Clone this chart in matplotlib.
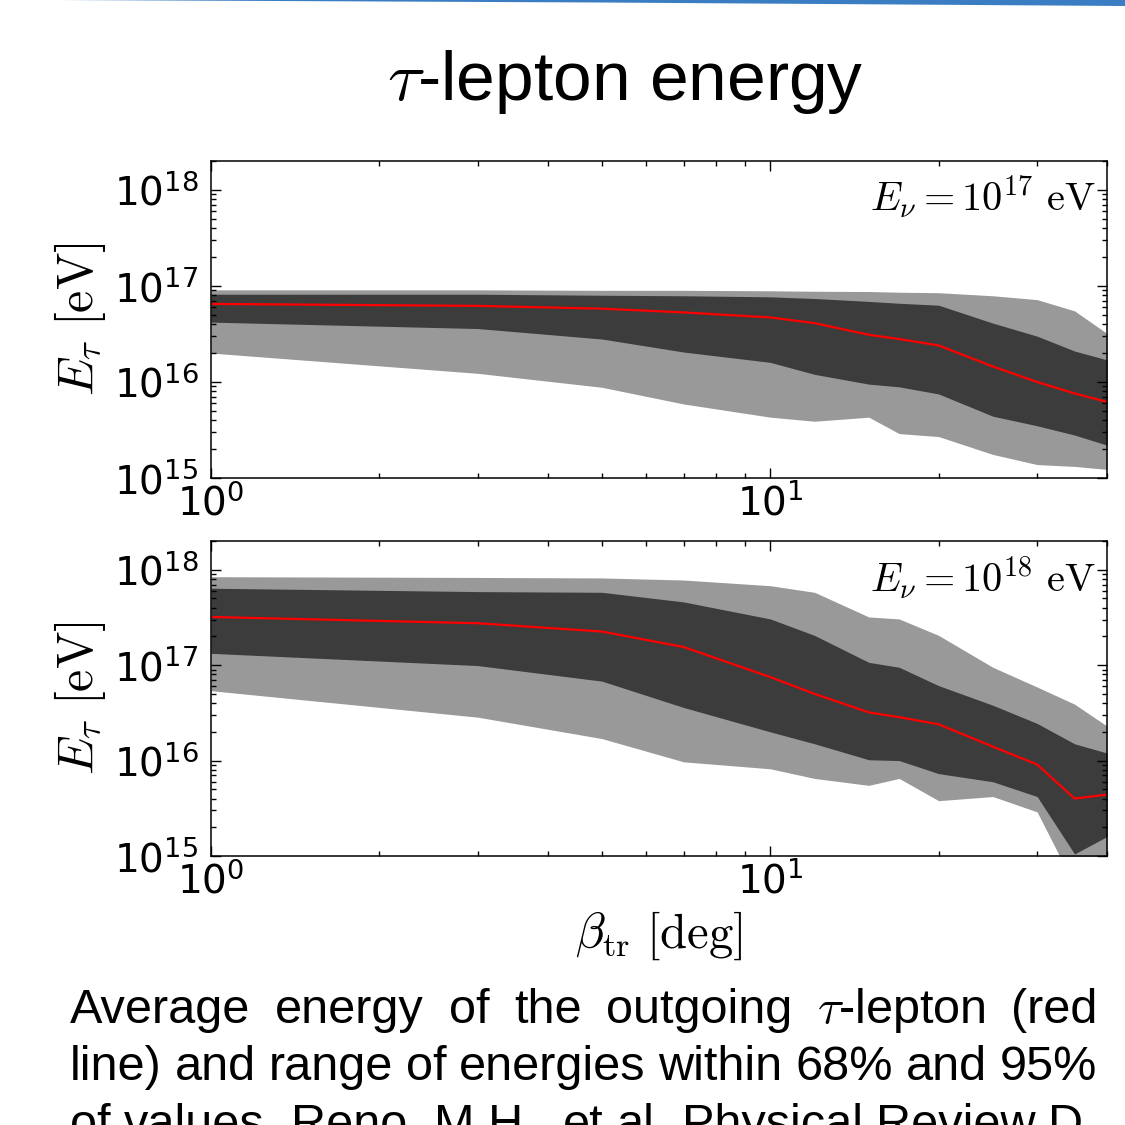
import numpy as np
import matplotlib
matplotlib.use('Agg')
import matplotlib.pyplot as plt
from matplotlib.patches import Polygon
from matplotlib.ticker import LogLocator, NullFormatter

plt.rcParams['font.family'] = 'DejaVu Sans'
plt.rcParams['mathtext.fontset'] = 'cm'

# beta_tr [deg]
beta = [1, 3, 5, 7, 10, 12, 15, 17, 20, 25, 30, 35, 40]

# E_nu = 1e17 eV
mean_17 = [6.5e16, 6.2e16, 5.8e16, 5.3e16, 4.7e16, 4.1e16, 3.1e16, 2.8e16, 2.4e16, 1.45e16, 1.0e16, 7.6e15, 6.2e15]
hi68_17 = [8.2e16, 8.2e16, 8.0e16, 7.9e16, 7.7e16, 7.4e16, 6.9e16, 6.6e16, 6.3e16, 4.1e16, 3.0e16, 2.1e16, 1.7e16]
lo68_17 = [4.2e16, 3.6e16, 2.8e16, 2.05e16, 1.6e16, 1.2e16, 9.5e15, 8.9e15, 7.5e15, 4.4e15, 3.5e15, 2.8e15, 2.2e15]
hi95_17 = [9.1e16, 9.1e16, 9.0e16, 9.0e16, 8.9e16, 8.8e16, 8.75e16, 8.6e16, 8.5e16, 7.9e16, 7.2e16, 5.5e16, 3.2e16]
lo95_17 = [2.0e16, 1.23e16, 8.8e15, 5.9e15, 4.3e15, 3.9e15, 4.3e15, 2.9e15, 2.7e15, 1.76e15, 1.38e15, 1.32e15, 1.23e15]

# E_nu = 1e18 eV
mean_18 = [3.2e17, 2.75e17, 2.25e17, 1.55e17, 7.5e16, 5.0e16, 3.2e16, 2.85e16, 2.4e16, 1.4e16, 9.1e15, 4.0e15, 4.4e15]
hi68_18 = [6.4e17, 5.9e17, 5.8e17, 4.6e17, 3.05e17, 2.05e17, 1.07e17, 9.5e16, 6.1e16, 3.8e16, 2.45e16, 1.5e16, 1.2e16]
lo68_18 = [1.33e17, 9.9e16, 6.8e16, 3.6e16, 2.0e16, 1.5e16, 1.02e16, 1.0e16, 7.3e15, 6.0e15, 4.2e15, 1.05e15, 1.6e15]
hi95_18 = [8.45e17, 8.3e17, 8.2e17, 7.8e17, 6.8e17, 5.8e17, 3.2e17, 3.05e17, 2.05e17, 9.5e16, 5.9e16, 3.9e16, 2.3e16]
lo95_18 = [5.4e16, 2.85e16, 1.7e16, 9.7e15, 8.2e15, 6.5e15, 5.5e15, 6.5e15, 3.8e15, 4.2e15, 2.9e15, 4.9e14, 6.3e14]

panels = [
    (r'$E_\nu = 10^{17}\ \mathrm{eV}$', mean_17, lo68_17, hi68_17, lo95_17, hi95_17),
    (r'$E_\nu = 10^{18}\ \mathrm{eV}$', mean_18, lo68_18, hi68_18, lo95_18, hi95_18),
]

W = 1125.0
fig = plt.figure(figsize=(11.25, 11.25), dpi=100)

# blue bar on top of the slide
fig.patches.append(Polygon([(60 / W, 1.0), (1.0, 1.0), (1.0, 1 - 6 / W), (600 / W, 1 - 2.5 / W)],
                           closed=True, transform=fig.transFigure, color='#3a7dc2', lw=0))

fig.text(625 / W, 1 - 100 / W, r'$\tau$-lepton energy', family='Liberation Sans',
         fontsize=50, ha='center', va='baseline')

axes_box = [(211, 161, 1107, 478), (211, 541, 1107, 856)]
for (x0, y0, x1, y1), (lab, mean, lo68, hi68, lo95, hi95) in zip(axes_box, panels):
    ax = fig.add_axes([x0 / W, 1 - y1 / W, (x1 - x0) / W, (y1 - y0) / W])
    ax.fill_between(beta, lo95, hi95, color='#999999', lw=0)
    ax.fill_between(beta, lo68, hi68, color='#3c3c3c', lw=0)
    ax.plot(beta, mean, color='red', lw=1.6)
    ax.set_xscale('log')
    ax.set_yscale('log')
    ax.set_xlim(1, 40)
    ax.set_ylim(1e15, 2e18)
    ax.yaxis.set_major_locator(LogLocator(base=10, numticks=10))
    ax.yaxis.set_minor_locator(LogLocator(base=10, subs=np.arange(2, 10), numticks=10))
    ax.yaxis.set_minor_formatter(NullFormatter())
    ax.xaxis.set_minor_formatter(NullFormatter())
    ax.tick_params(which='both', direction='in', top=True, right=True, width=1)
    ax.tick_params(which='major', length=7, labelsize=28)
    ax.tick_params(which='minor', length=3.5)
    ax.tick_params(axis='y', pad=9)
    ax.tick_params(axis='x', pad=4)
    for s in ax.spines.values():
        s.set_linewidth(1.1)
    ax.set_ylabel(r'$E_\tau\ [\mathrm{eV}]$', fontsize=36, labelpad=4)
    ax.text(0.987, 0.885, lab, transform=ax.transAxes, ha='right', va='center', fontsize=29)

ax.set_xlabel(r'$\beta_{\mathrm{tr}}\ [\mathrm{deg}]$', fontsize=35, labelpad=6)

# caption, justified like on the slide
caption = [
    ['Average', 'energy', 'of', 'the', 'outgoing', r'$\tau$-lepton', '(red'],
    ['line)', 'and', 'range', 'of', 'energies', 'within', '68%', 'and', '95%'],
    ['of', 'values.', 'Reno,', 'M.H.,', 'et', 'al.', 'Physical', 'Review', 'D,'],
]
baselines = [1023, 1080, 1138]
renderer = fig.canvas.get_renderer()
for words, yb in zip(caption, baselines):
    texts = [fig.text(0, 1 - yb / W, w, family='Liberation Sans', fontsize=35, va='baseline')
             for w in words]
    widths = [t.get_window_extent(renderer).width for t in texts]
    gap = ((1097 - 70) - sum(widths)) / (len(words) - 1)
    x = 70.0
    for t, w in zip(texts, widths):
        t.set_x(x / W)
        x += w + gap

fig.savefig('out.png', dpi=100)
